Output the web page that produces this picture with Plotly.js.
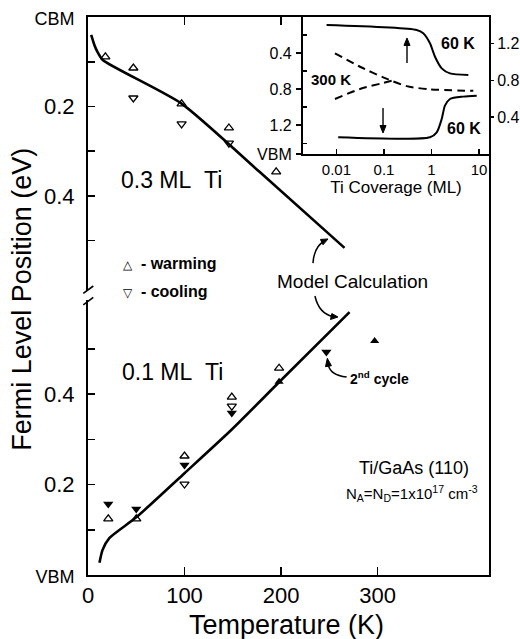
<!DOCTYPE html>
<html>
<head>
<meta charset="utf-8">
<script src="https://cdn.plot.ly/plotly-3.0.1.min.js"></script>
<style>html,body{margin:0;padding:0;background:#fff;}#chart{width:520px;height:639px;}</style>
</head>
<body>
<div id="chart"></div>
<script>
// ---------- Main panel, upper part: 0.3 ML Ti (eV below CBM) ----------
const tUpWarm = [18, 47, 97, 146, 195];
const eUpWarm = [0.089, 0.114, 0.194, 0.248, 0.346];
const tUpCool = [47, 97, 146];
const eUpCool = [0.181, 0.239, 0.282];
const tUpModel = [3.3, 6.7, 9.8, 15.3, 96.6, 177.7, 265.8];
const eUpModel = [0.040, 0.063, 0.078, 0.096, 0.193, 0.346, 0.516];

// ---------- Main panel, lower part: 0.1 ML Ti (eV above VBM) ----------
const tLoWarm = [21, 50, 100, 149, 198];
const eLoWarm = [0.124, 0.124, 0.263, 0.393, 0.457];
const tLoCool = [100, 149];
const eLoCool = [0.201, 0.373];
const tLoCool2 = [21, 50, 100, 149, 247];   // 2nd cycle, cooling
const eLoCool2 = [0.157, 0.146, 0.243, 0.358, 0.493];
const tLoWarm2 = [198, 297];                // 2nd cycle, warming
const eLoWarm2 = [0.427, 0.517];
const tLoModel = [11.9, 15, 22.3, 50.3, 100, 148.7, 198.4, 271];
const eLoModel = [0.027, 0.055, 0.082, 0.128, 0.225, 0.321, 0.427, 0.581];

// ---------- Inset: Fermi level vs Ti coverage ----------
const covN60 = [0.0062, 0.488, 0.671, 0.929, 1.185, 1.64, 2.45, 5.96];   // n-type, 60 K (below CBM)
const eN60 = [0.089, 0.144, 0.181, 0.292, 0.441, 0.570, 0.626, 0.644];
const covN300 = [0.0093, 0.0313, 0.0966, 0.30, 0.93, 7.59];             // n-type, 300 K (below CBM)
const eN300 = [0.403, 0.552, 0.670, 0.767, 0.803, 0.819];
const covP300 = [0.0093, 0.0313, 0.0966, 0.171];                         // p-type, 300 K (above VBM)
const eP300 = [0.598, 0.707, 0.773, 0.805];
const covP60 = [0.0109, 0.929, 1.29, 1.64, 1.92, 2.45, 4.67, 8.95];      // p-type, 60 K (above VBM)
const eP60 = [0.182, 0.182, 0.236, 0.381, 0.526, 0.598, 0.624, 0.634];

// tick labels
const xTickVals = [0, 100, 200, 300];
const xTickText = ['0', '100', '200', '300'];
const mainYTickVals = [0, 0.2, 0.4];
const mainYMinorVals = [0.1, 0.3, 0.5];
const upTickText = ['<span style="font-size:18px">CBM</span>', '0.2', '0.4'];
const loTickText = ['<span style="font-size:18px">VBM</span>', '0.2', '0.4'];
const insetXTickVals = [0.01, 0.1, 1, 10];
const insetXTickText = ['0.01', '0.1', '1', '10'];
const insetLeftVals = [0.4, 0.8, 1.2, 1.52];
const insetLeftText = ['0.4', '0.8', '1.2', 'VBM'];
const insetLeftMinor = [0.2, 0.6, 1.0, 1.4];
const insetRightVals = [0.4, 0.8, 1.2];

const K = '#000';
const openUp = {symbol: 'triangle-up-open', size: 8, color: K, line: {width: 1.3, color: K}};
const openDn = {symbol: 'triangle-down-open', size: 8, color: K, line: {width: 1.3, color: K}};
const fillUp = {symbol: 'triangle-up', size: 8, color: K};
const fillDn = {symbol: 'triangle-down', size: 9, color: K};

const traces = [
  {x: tUpModel, y: eUpModel, xaxis: 'x2', yaxis: 'y2', mode: 'lines', line: {color: K, width: 2.6, shape: 'spline', smoothing: 0.6}},
  {x: tUpWarm, y: eUpWarm, xaxis: 'x2', yaxis: 'y2', mode: 'markers', marker: openUp},
  {x: tUpCool, y: eUpCool, xaxis: 'x2', yaxis: 'y2', mode: 'markers', marker: openDn},

  {x: tLoModel, y: eLoModel, xaxis: 'x', yaxis: 'y', mode: 'lines', line: {color: K, width: 2.6, shape: 'spline', smoothing: 0.6}},
  {x: tLoWarm, y: eLoWarm, xaxis: 'x', yaxis: 'y', mode: 'markers', marker: openUp},
  {x: tLoCool, y: eLoCool, xaxis: 'x', yaxis: 'y', mode: 'markers', marker: openDn},
  {x: tLoCool2, y: eLoCool2, xaxis: 'x', yaxis: 'y', mode: 'markers', marker: fillDn},
  {x: tLoWarm2, y: eLoWarm2, xaxis: 'x', yaxis: 'y', mode: 'markers', marker: fillUp},

  {x: covN60, y: eN60, xaxis: 'x3', yaxis: 'y3', mode: 'lines', line: {color: K, width: 2, shape: 'spline', smoothing: 0.7}},
  {x: covN300, y: eN300, xaxis: 'x3', yaxis: 'y3', mode: 'lines', line: {color: K, width: 2, dash: '8px,5px', shape: 'spline', smoothing: 0.7}},
  {x: covP300, y: eP300, xaxis: 'x3', yaxis: 'y4', mode: 'lines', line: {color: K, width: 2, dash: '8px,5px', shape: 'spline', smoothing: 0.7}},
  {x: covP60, y: eP60, xaxis: 'x3', yaxis: 'y4', mode: 'lines', line: {color: K, width: 2, shape: 'spline', smoothing: 0.7}}
];

const axBase = {showgrid: false, zeroline: false, showline: true, linecolor: K, linewidth: 2,
  tickcolor: K, tickwidth: 1.5, color: K};
const mainMinor = {tickmode: 'array', tickvals: mainYMinorVals, ticks: 'inside', ticklen: 7, tickcolor: K, tickwidth: 1.5};

const FONT = 'Liberation Sans, Arial, Helvetica, sans-serif';

// small filled triangle as an arrowhead (paper coords)
function head(tip, c1, c2) {
  return {type: 'path', xref: 'paper', yref: 'paper', fillcolor: K, line: {color: K, width: 1},
    path: 'M ' + tip.join(',') + ' L ' + c1.join(',') + ' L ' + c2.join(',') + ' Z'};
}

const layout = {
  width: 520, height: 639,
  margin: {l: 88, r: 31, t: 17, b: 64},
  paper_bgcolor: '#fff', plot_bgcolor: '#fff',
  showlegend: false,
  font: {family: FONT, color: K, size: 22},
  xaxis: Object.assign({}, axBase, {domain: [0, 1], anchor: 'y', range: [0, 415.5],
    tickvals: xTickVals, ticktext: xTickText, ticks: 'inside', ticklen: 8,
    tickfont: {size: 22}, ticklabelstandoff: 0}),
  xaxis2: Object.assign({}, axBase, {matches: 'x', anchor: 'y2', side: 'top', range: [0, 415.5],
    tickvals: [100, 200], ticks: 'inside', ticklen: 8, showticklabels: false}),
  yaxis: Object.assign({}, axBase, {domain: [0, 0.5], anchor: 'x', range: [0, 0.6166],
    tickvals: mainYTickVals, ticktext: loTickText, ticks: 'inside', ticklen: 7, mirror: true,
    minor: mainMinor, tickfont: {size: 22}, ticklabelstandoff: 7}),
  yaxis2: Object.assign({}, axBase, {domain: [0.5, 1], anchor: 'x2', range: [0.6235, 0],
    tickvals: mainYTickVals, ticktext: upTickText, ticks: 'inside', ticklen: 7, mirror: true,
    minor: mainMinor, tickfont: {size: 22}, ticklabelstandoff: 7}),
  xaxis3: Object.assign({}, axBase, {domain: [0.536, 1], anchor: 'y3', type: 'log', range: [-2.705, 1.21],
    tickvals: insetXTickVals, ticktext: insetXTickText, ticks: 'inside', ticklen: 5, mirror: true,
    tickfont: {size: 15}, ticklabelstandoff: 1,
    title: {text: 'Ti Coverage (ML)', font: {size: 17}, standoff: 2}}),
  yaxis3: Object.assign({}, axBase, {domain: [0.7545, 1], anchor: 'x3', range: [1.52, 0],
    tickvals: insetLeftVals, ticktext: insetLeftText, ticks: 'outside', ticklen: 5,
    minor: {tickmode: 'array', tickvals: insetLeftMinor, ticks: 'inside', ticklen: 4, tickcolor: K, tickwidth: 1.3},
    tickfont: {size: 16}, ticklabelstandoff: 1}),
  yaxis4: Object.assign({}, axBase, {overlaying: 'y3', anchor: 'x3', side: 'right', range: [0, 1.49],
    tickvals: insetRightVals, ticks: 'outside', ticklen: 4, showline: false,
    tickfont: {size: 16}, ticklabelstandoff: 0}),
  shapes: [
    // axis break on the left axis
    {type: 'rect', xref: 'paper', yref: 'paper', x0: -0.012, x1: 0.012, y0: 0.4928, y1: 0.5090,
      fillcolor: '#fff', line: {width: 0}, layer: 'above'},
    {type: 'line', xref: 'paper', yref: 'paper', x0: -0.0117, y0: 0.5048, x1: 0.0132, y1: 0.5179,
      line: {color: K, width: 1.6}, layer: 'above'},
    {type: 'line', xref: 'paper', yref: 'paper', x0: -0.0117, y0: 0.4839, x1: 0.0132, y1: 0.4977,
      line: {color: K, width: 1.6}, layer: 'above'},
    // curved pointer lines
    {type: 'path', xref: 'paper', yref: 'paper', path: 'M 0.561,0.559 Q 0.564,0.590 0.592,0.599',
      line: {color: K, width: 1.5}},
    {type: 'path', xref: 'paper', yref: 'paper', path: 'M 0.566,0.500 Q 0.576,0.468 0.612,0.463',
      line: {color: K, width: 1.5}},
    {type: 'path', xref: 'paper', yref: 'paper', path: 'M 0.645,0.355 Q 0.603,0.358 0.599,0.378',
      line: {color: K, width: 1.5}},
    head([0.5985, 0.6022], [0.5861, 0.5918], [0.5796, 0.6014]),
    head([0.6234, 0.4624], [0.6047, 0.4579], [0.6080, 0.4685]),
    head([0.5968, 0.3883], [0.6070, 0.3751], [0.5923, 0.3733]),
    // inset vertical arrows
    {type: 'line', xref: 'paper', yref: 'paper', x0: 0.7955, x1: 0.7955, y0: 0.9176, y1: 0.9520,
      line: {color: K, width: 1.4}},
    head([0.7955, 0.9624], [0.7880, 0.9490], [0.8030, 0.9490]),
    {type: 'line', xref: 'paper', yref: 'paper', x0: 0.7357, x1: 0.7357, y0: 0.8369, y1: 0.8030,
      line: {color: K, width: 1.4}},
    head([0.7357, 0.7921], [0.7282, 0.8055], [0.7432, 0.8055])
  ],
  annotations: [
    {xref: 'paper', yref: 'paper', x: -0.1646, y: 0.495, text: 'Fermi Level Position (eV)', textangle: -90,
      showarrow: false, font: {size: 27}, xanchor: 'center', yanchor: 'middle'},
    {xref: 'paper', yref: 'paper', x: 0.494, y: -0.0905, text: 'Temperature (K)', borderpad: 0,
      showarrow: false, font: {size: 27}, xanchor: 'center', yanchor: 'middle'},
    {xref: 'x2', yref: 'y2', x: 86.5, y: 0.364, text: '0.3 ML\u00a0\u00a0Ti', showarrow: false, font: {size: 23}},
    {xref: 'x', yref: 'y', x: 87.6, y: 0.449, text: '0.1 ML\u00a0\u00a0Ti', showarrow: false, font: {size: 23}},
    {xref: 'x2', yref: 'y2', x: 34, y: 0.55, xanchor: 'left',
      text: '<span style="font-size:12px">\u25B3</span>\u00a0 <b>- warming</b>', showarrow: false, font: {size: 16}},
    {xref: 'x2', yref: 'y2', x: 34, y: 0.6145, xanchor: 'left',
      text: '<span style="font-size:12px">\u25BD</span>\u00a0 <b>- cooling</b>', showarrow: false, font: {size: 16}},
    {xref: 'x2', yref: 'y2', x: 274.5, y: 0.592, text: 'Model Calculation', showarrow: false, font: {size: 19}},
    {xref: 'x', yref: 'y', x: 269.2, y: 0.435, xanchor: 'left', text: '<b>2<sup>nd</sup> cycle</b>',
      showarrow: false, font: {size: 14}},
    {xref: 'x', yref: 'y', x: 338.3, y: 0.2365, text: 'Ti/GaAs (110)', showarrow: false, font: {size: 18}},
    {xref: 'x', yref: 'y', x: 335.3, y: 0.181,
      text: 'N<sub>A</sub>=N<sub>D</sub>=1x10<sup>17</sup> cm<sup>-3</sup>', showarrow: false,
      font: {size: 15}},
    // inset labels
    {xref: 'x3', yref: 'y3', x: 0.558, y: 0.289, text: '<b>60 K</b>', showarrow: false, font: {size: 16}},
    {xref: 'x3', yref: 'y3', x: -2.579, y: 0.689, xanchor: 'left', text: '<b>300 K</b>', showarrow: false, font: {size: 15}},
    {xref: 'x3', yref: 'y3', x: 0.684, y: 1.233, text: '<b>60 K</b>', showarrow: false, font: {size: 16}}
  ]
};

Plotly.newPlot('chart', traces, layout, {displayModeBar: false, staticPlot: true});
</script>
</body>
</html>
